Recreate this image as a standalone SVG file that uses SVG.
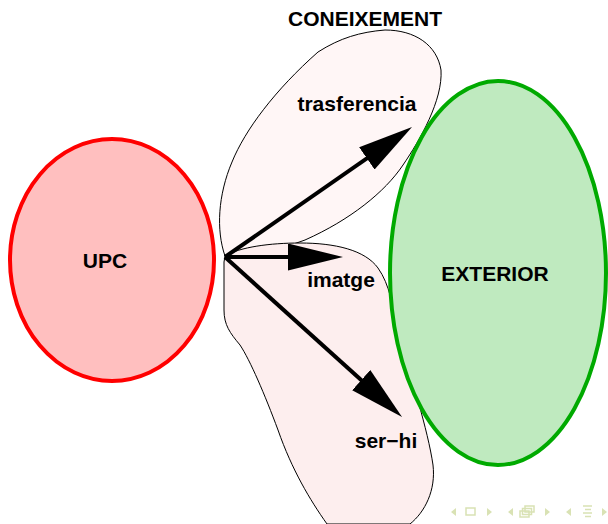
<svg xmlns="http://www.w3.org/2000/svg" width="608" height="524" viewBox="0 0 608 524">
<style>
text{font-family:"Liberation Sans",Arial,sans-serif;font-weight:bold;font-size:21px;fill:#000;text-anchor:middle}
.blob{stroke:#000;stroke-width:1}
.arr{stroke:#000;stroke-width:4;fill:none;marker-end:url(#ah)}
.nav{fill:#d9e2b4;stroke:none}
.navs{fill:none;stroke:#d9e2b4;stroke-width:1.5}
</style>
<defs>
<marker id="ah" markerUnits="userSpaceOnUse" markerWidth="56" markerHeight="28" refX="35" refY="13.5" orient="auto">
<path d="M0,0 L55,13.5 L0,27 Z" fill="#000"/>
</marker>
</defs>
<g id="coneixement">
<path class="blob" fill="#fff6f6" d="M225,256 C216,230 218,195 232,162 C245,130 275,90 318,52 C340,38 360,32 385,30 C415,30 437,45 441,70 C443,100 420,140 403,165 C385,192 350,220 305,240 C280,250 250,252 225,256 Z"/>
<text x="365" y="26">CONEIXEMENT</text>
<text x="357" y="111">trasferencia</text>
</g>
<g id="lower">
<path class="blob" fill="#fdeeee" d="M225,256 C240,247 270,243 300,243 C335,243 365,250 378,268 C390,285 392,305 400,335 C410,375 428,430 433,465 C436,490 425,512 410,524 L327,524 C310,500 292,470 278,430 C265,395 250,360 240,345 C230,333 224,325 224,310 L224,262 Z"/>
<text x="341" y="287">imatge</text>
<text x="386" y="448">ser−hi</text>
</g>
<g id="upc">
<ellipse cx="112" cy="260" rx="102" ry="121" fill="#ffbfbf" stroke="#ff0000" stroke-width="4"/>
<text x="105" y="268">UPC</text>
</g>
<g id="exterior">
<ellipse cx="498" cy="273" rx="108" ry="192" fill="#bfeabf" stroke="#00aa00" stroke-width="4"/>
<text x="495" y="281">EXTERIOR</text>
</g>
<g id="connectors">
<line class="arr" x1="225" y1="257" x2="395.6" y2="138.4"/>
<line class="arr" x1="225" y1="257" x2="323" y2="257"/>
<line class="arr" x1="225" y1="257" x2="387.2" y2="403.6"/>
</g>
<g id="navigation">
<path class="nav" d="M456,508 L451,512 L456,516 Z"/>
<rect class="navs" x="466" y="508" width="9" height="7"/>
<path class="nav" d="M487,508 L492,512 L487,516 Z"/>
<path class="nav" d="M513,508 L508,512 L513,516 Z"/>
<rect class="navs" x="520" y="511" width="9" height="6"/>
<rect class="navs" x="522.5" y="508.5" width="9" height="6"/>
<rect class="navs" x="525" y="506" width="9" height="6"/>
<path class="nav" d="M545,508 L550,512 L545,516 Z"/>
<path class="nav" d="M571,508 L566,512 L571,516 Z"/>
<path class="navs" d="M583,506 H592 M585,509.5 H591 M583,513 H592 M585,516.5 H591"/>
<path class="nav" d="M602,508 L607,512 L602,516 Z"/>
</g>
</svg>
